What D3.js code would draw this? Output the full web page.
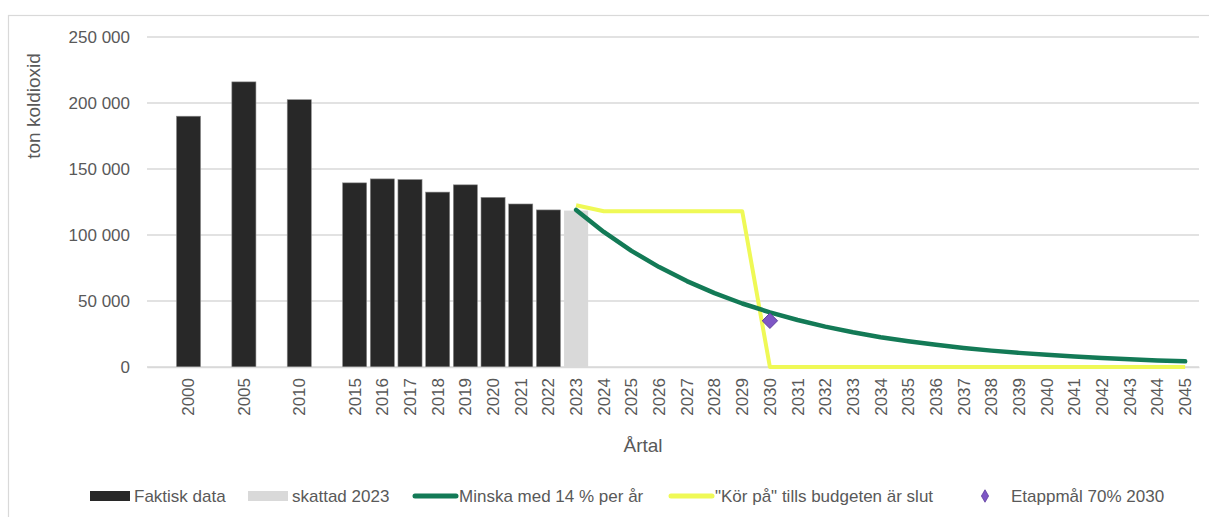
<!DOCTYPE html>
<html>
<head>
<meta charset="utf-8">
<script src="https://cdn.jsdelivr.net/npm/d3@7/dist/d3.min.js"></script>
<style>
  body { margin: 0; background: #fff; }
  svg text { font-family: "Liberation Sans", Arial, sans-serif; fill: #595959; }
</style>
</head>
<body>
<div id="chart"></div>
<script>
// categories on the x axis (empty slots are blank gaps in the chart)
var categories = ["", "2000", "", "2005", "", "2010", "",
    "2015", "2016", "2017", "2018", "2019", "2020", "2021", "2022", "2023",
    "2024", "2025", "2026", "2027", "2028", "2029", "2030", "2031", "2032",
    "2033", "2034", "2035", "2036", "2037", "2038", "2039", "2040", "2041",
    "2042", "2043", "2044", "2045"];

// Faktisk data
var actualYears  = ["2000", "2005", "2010", "2015", "2016", "2017", "2018", "2019", "2020", "2021", "2022"];
var actualValues = [190000, 216000, 202500, 139500, 142500, 142000, 132500, 138000, 128500, 123500, 119000];

// skattad 2023
var estYears  = ["2023"];
var estValues = [118500];

// Minska med 14 % per år
var reduceYears  = ["2023", "2024", "2025", "2026", "2027", "2028", "2029", "2030", "2031", "2032",
    "2033", "2034", "2035", "2036", "2037", "2038", "2039", "2040", "2041", "2042", "2043", "2044", "2045"];
var reduceValues = [119000, 102300, 88000, 75700, 65100, 56000, 48100, 41400, 35600, 30600,
    26300, 22600, 19500, 16800, 14400, 12400, 10700, 9200, 7900, 6800, 5800, 5000, 4300];

// "Kör på" tills budgeten är slut
var budgetYears  = reduceYears;
var budgetValues = [122500, 118000, 118000, 118000, 118000, 118000, 118000, 0, 0, 0,
    0, 0, 0, 0, 0, 0, 0, 0, 0, 0, 0, 0, 0];

// Etappmål 70% 2030
var goalYears  = ["2030"];
var goalValues = [35000];

var yTicks = [0, 50000, 100000, 150000, 200000, 250000];

var W = 1209, H = 517;
var margin = {top: 37, right: 10, bottom: 150, left: 147};
var width = W - margin.left - margin.right,
    height = H - margin.top - margin.bottom;

var svg = d3.select("#chart").append("svg")
    .attr("width", W)
    .attr("height", H);

// outer chart border
svg.append("rect")
    .attr("x", 8.5).attr("y", 15.5)
    .attr("width", W + 20).attr("height", H + 20)
    .attr("fill", "none")
    .attr("stroke", "#d9d9d9")
    .attr("stroke-width", 1.2);

var g = svg.append("g")
    .attr("transform", "translate(" + margin.left + "," + margin.top + ")");

var x = d3.scaleBand()
    .domain(d3.range(categories.length))
    .range([0, width])
    .paddingInner(0.13)
    .paddingOuter(0.065);
var y = d3.scaleLinear().domain([0, 250000]).range([height, 0]);

function xc(year) { return x(categories.indexOf(year)) + x.bandwidth() / 2; }
function xb(year) { return x(categories.indexOf(year)); }

var fmt = function(v) { return d3.format(",")(v).replace(/,/g, " "); };

// gridlines
g.selectAll(".grid")
    .data(yTicks)
    .enter().append("line")
    .attr("class", "grid")
    .attr("x1", 0).attr("x2", width)
    .attr("y1", function(d) { return y(d); })
    .attr("y2", function(d) { return y(d); })
    .attr("stroke", "#d9d9d9")
    .attr("stroke-width", 1.5);

// Y axis labels
var yAxis = g.append("g")
    .attr("class", "axis axis--y")
    .call(d3.axisLeft(y).tickValues(yTicks).tickFormat(fmt).tickSize(0).tickPadding(17));
yAxis.select(".domain").remove();
yAxis.selectAll("text").attr("font-size", 17).attr("fill", "#595959");

// Bars
g.selectAll(".bar-actual")
    .data(actualYears)
    .enter().append("rect")
    .attr("class", "bar-actual")
    .attr("x", function(d) { return xb(d); })
    .attr("width", x.bandwidth())
    .attr("y", function(d, i) { return y(actualValues[i]); })
    .attr("height", function(d, i) { return height - y(actualValues[i]); })
    .attr("fill", "#282828")
    .attr("stroke", "#8c8c8c")
    .attr("stroke-width", 0.6);

g.selectAll(".bar-est")
    .data(estYears)
    .enter().append("rect")
    .attr("class", "bar-est")
    .attr("x", function(d) { return xb(d); })
    .attr("width", x.bandwidth())
    .attr("y", function(d, i) { return y(estValues[i]); })
    .attr("height", function(d, i) { return height - y(estValues[i]); })
    .attr("fill", "#d9d9d9");

// X axis
var xAxis = g.append("g")
    .attr("class", "axis axis--x")
    .attr("transform", "translate(0," + height + ")")
    .call(d3.axisBottom(x).tickFormat(function(i) { return categories[i]; }).tickSize(0));
xAxis.select(".domain").attr("stroke", "#d9d9d9").attr("stroke-width", 1.5);
xAxis.selectAll("text")
    .attr("font-size", 17)
    .attr("fill", "#595959")
    .attr("text-anchor", "end")
    .attr("transform", "rotate(-90)")
    .attr("x", -11)
    .attr("y", 0)
    .attr("dy", "0.35em");

// Lines
var line = d3.line()
    .x(function(d) { return xc(d[0]); })
    .y(function(d) { return y(d[1]); });

g.append("path")
    .datum(budgetYears.map(function(d, i) { return [d, budgetValues[i]]; }))
    .attr("d", line)
    .attr("fill", "none")
    .attr("stroke", "#eff956")
    .attr("stroke-width", 4)
    .attr("stroke-linejoin", "round");

g.append("path")
    .datum(reduceYears.map(function(d, i) { return [d, reduceValues[i]]; }))
    .attr("d", line)
    .attr("fill", "none")
    .attr("stroke", "#137a56")
    .attr("stroke-width", 4.5)
    .attr("stroke-linecap", "round")
    .attr("stroke-linejoin", "round");

// Goal marker
var diamond = d3.symbol().type(d3.symbolDiamond2).size(150);
g.selectAll(".goal")
    .data(goalYears)
    .enter().append("path")
    .attr("class", "goal")
    .attr("d", diamond)
    .attr("transform", function(d, i) { return "translate(" + xc(d) + "," + y(goalValues[i]) + ")"; })
    .attr("fill", "#7e57c5")
    .attr("stroke", "#5f3f9e")
    .attr("stroke-width", 1);

// Axis titles
svg.append("text")
    .attr("transform", "translate(33,106) rotate(-90)")
    .attr("text-anchor", "middle")
    .attr("dy", "0.35em")
    .attr("font-size", 19)
    .text("ton koldioxid");

svg.append("text")
    .attr("x", 643)
    .attr("y", 452)
    .attr("text-anchor", "middle")
    .attr("font-size", 19)
    .text("Årtal");

// Legend
var legendItems = [
    {label: "Faktisk data", type: "rect", color: "#282828", x: 90},
    {label: "skattad 2023", type: "rect", color: "#d9d9d9", x: 248},
    {label: "Minska med 14 % per år", type: "line", color: "#137a56", x: 413},
    {label: "\"Kör på\" tills budgeten är slut", type: "line", color: "#eff956", x: 669},
    {label: "Etappmål 70% 2030", type: "diamond", color: "#7e57c5", x: 975}
];
var legend = svg.append("g").attr("transform", "translate(0,496)");
var items = legend.selectAll(".legend-item")
    .data(legendItems)
    .enter().append("g")
    .attr("class", "legend-item")
    .attr("transform", function(d) { return "translate(" + d.x + ",0)"; });

items.filter(function(d) { return d.type == "rect"; })
    .append("rect")
    .attr("x", 0).attr("y", -5)
    .attr("width", 40).attr("height", 10)
    .attr("fill", function(d) { return d.color; });
items.filter(function(d) { return d.type == "line"; })
    .append("line")
    .attr("x1", 2).attr("x2", 43)
    .attr("y1", 0).attr("y2", 0)
    .attr("stroke", function(d) { return d.color; })
    .attr("stroke-width", 5)
    .attr("stroke-linecap", "round");
items.filter(function(d) { return d.type == "diamond"; })
    .append("path")
    .attr("d", d3.symbol().type(d3.symbolDiamond).size(45))
    .attr("transform", "translate(10,0)")
    .attr("fill", function(d) { return d.color; })
    .attr("stroke", "#5f3f9e")
    .attr("stroke-width", 0.8);

items.append("text")
    .attr("x", function(d) { return d.type == "diamond" ? 36 : (d.type == "line" ? 46 : 44); })
    .attr("y", 0)
    .attr("dy", "0.35em")
    .attr("font-size", 17)
    .text(function(d) { return d.label; });
</script>
</body>
</html>
